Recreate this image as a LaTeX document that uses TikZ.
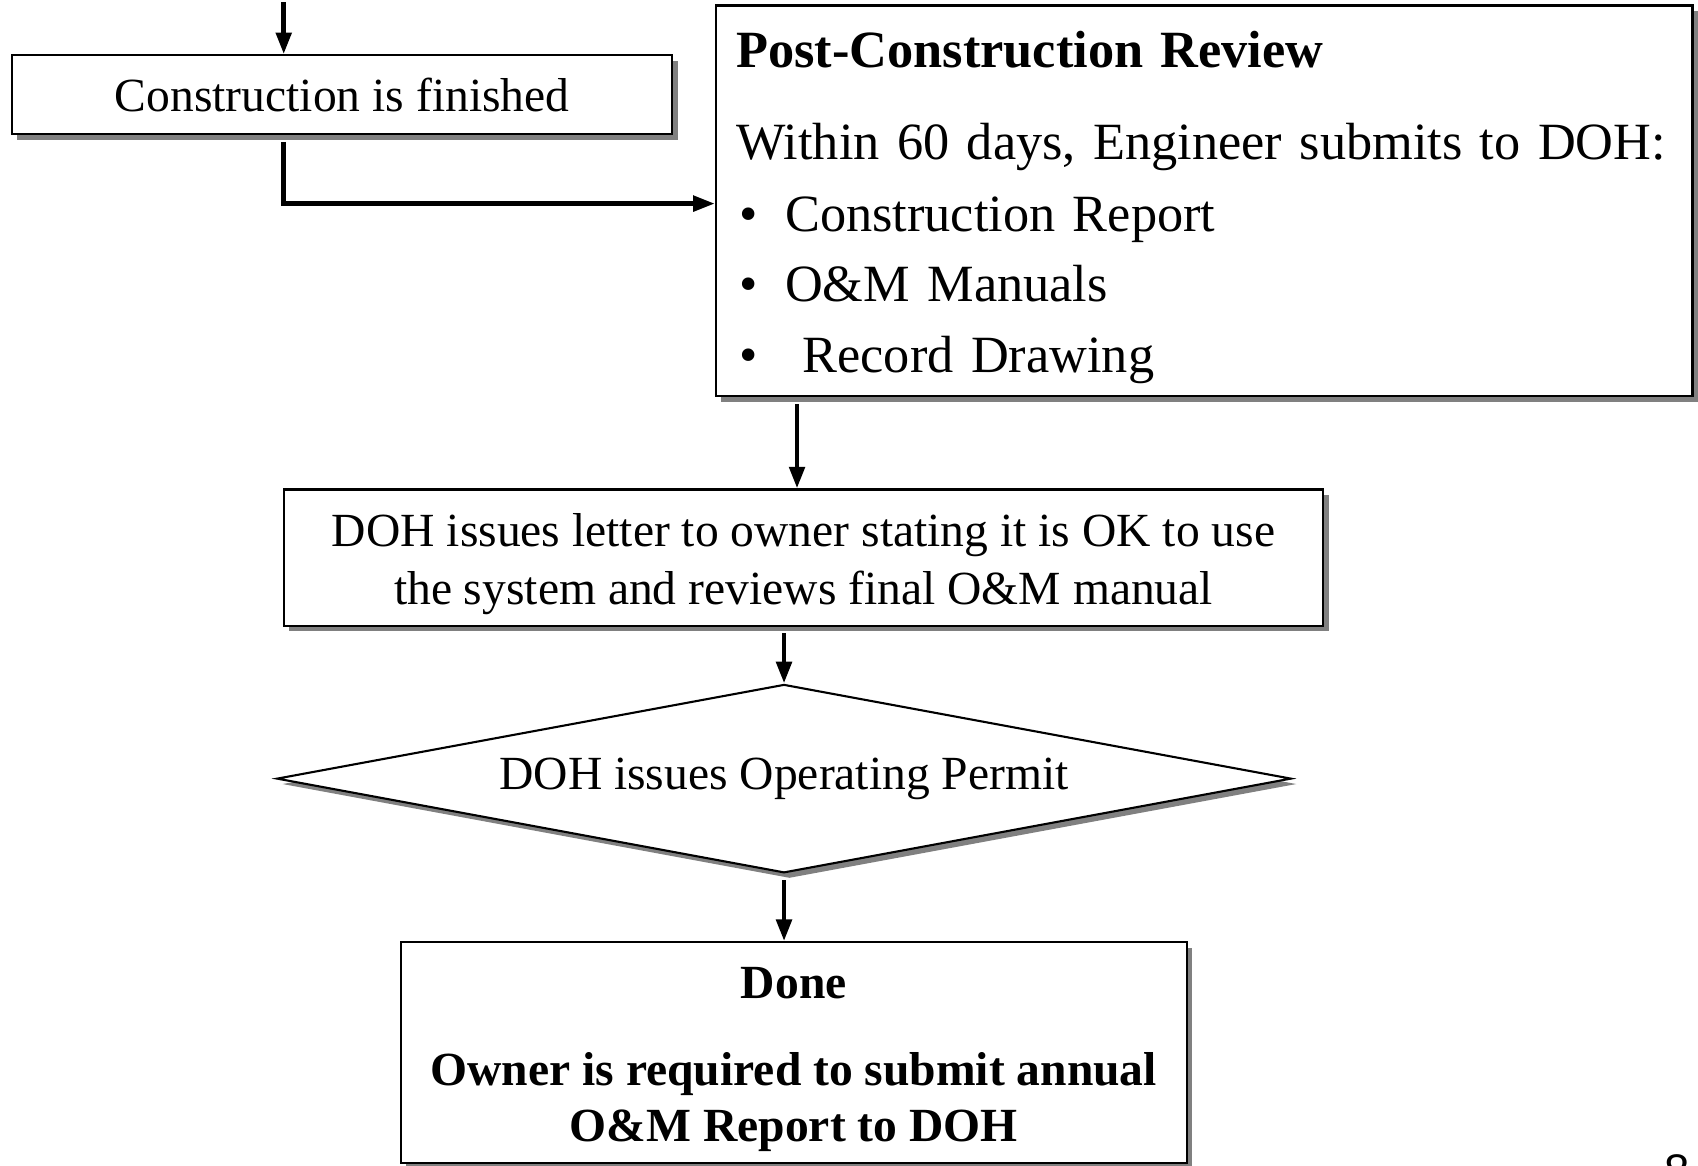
\documentclass[tikz,border=0pt]{standalone}
\usepackage{fontspec}
\setmainfont{Liberation Serif}
\newfontfamily\pagefont{Liberation Sans}
\usetikzlibrary{shapes.geometric,shadows,arrows.meta}
\newcommand\bul{\makebox[0.9cm][l]{\hspace{0.06cm}\textbullet}}
\newcommand\topstrut{\rule{0pt}{0.95em}}
\tikzset{
  box/.style={draw,line width=1.1pt,fill=white,inner sep=0pt,align=center,
    drop shadow={shadow xshift=0.1cm,shadow yshift=-0.1cm,fill=black!50,opacity=1}},
  txt/.style={font=\fontsize{25}{30.6}\selectfont},
  arr/.style={line width=2.5pt,-{Triangle[length=0.4cm,width=0.28cm]}},
}
\begin{document}
\begin{tikzpicture}[x=0.02cm,y=-0.02cm]
      \useasboundingbox (0,0) rectangle (1568,1076);
      \coordinate (in) at (262,2);
      \node[box,txt,minimum width=12.2cm,minimum height=1.46cm] (fin) at (316,87.5)
        {Construction is finished};
      \node[box,minimum width=18.04cm,minimum height=7.22cm,inner xsep=0.38cm,
        text width=17.28cm,align=left,font=\fontsize{27.5}{37}\selectfont] (pcr) at (1112,185.5)
        {\topstrut\textbf{Post-Construction Review}\\[11pt]
         \mbox{Within 60 days, Engineer submits to DOH:}\\[1pt]
         \bul Construction Report\\
         \bul O\&M Manuals\\
         \bul\ Record Drawing};
      \node[box,txt,minimum width=19.2cm,minimum height=2.52cm] (okuse) at (742,515)
        {\topstrut DOH issues letter to owner stating it is OK to use\\
         the system and reviews final O\&M manual};
      \node[box,txt,diamond,aspect=5.385,minimum width=18.74cm,minimum height=3.48cm] (permit) at (724,719)
        {DOH issues Operating Permit};
      \node[box,txt,font=\fontsize{25}{29.5}\selectfont\bfseries,minimum width=14.52cm,minimum height=4.08cm] (done) at (733,972)
        {\topstrut Done\\[16pt]
         Owner is required to submit annual\\
         O\&M Report to DOH};
      \node[font=\fontsize{24}{28}\pagefont] (page) at (1549,1081) {8};
      \begin{scope}[arr]
        \draw (in) -- (in |- fin.north);
        \draw[shorten <=0.12cm] (in |- fin.south) |- ([yshift=-0.05cm]pcr.west);
        \draw[shorten <=0.12cm] ([xshift=-0.12cm]pcr.south -| okuse.north) -- ([xshift=-0.12cm]okuse.north);
        \draw[shorten <=0.12cm] (okuse.south -| permit.north) -- (permit.north);
        \draw[shorten <=0.12cm] (permit.south) -- (permit.south |- done.north);
      \end{scope}
    \end{tikzpicture}
\end{document}
